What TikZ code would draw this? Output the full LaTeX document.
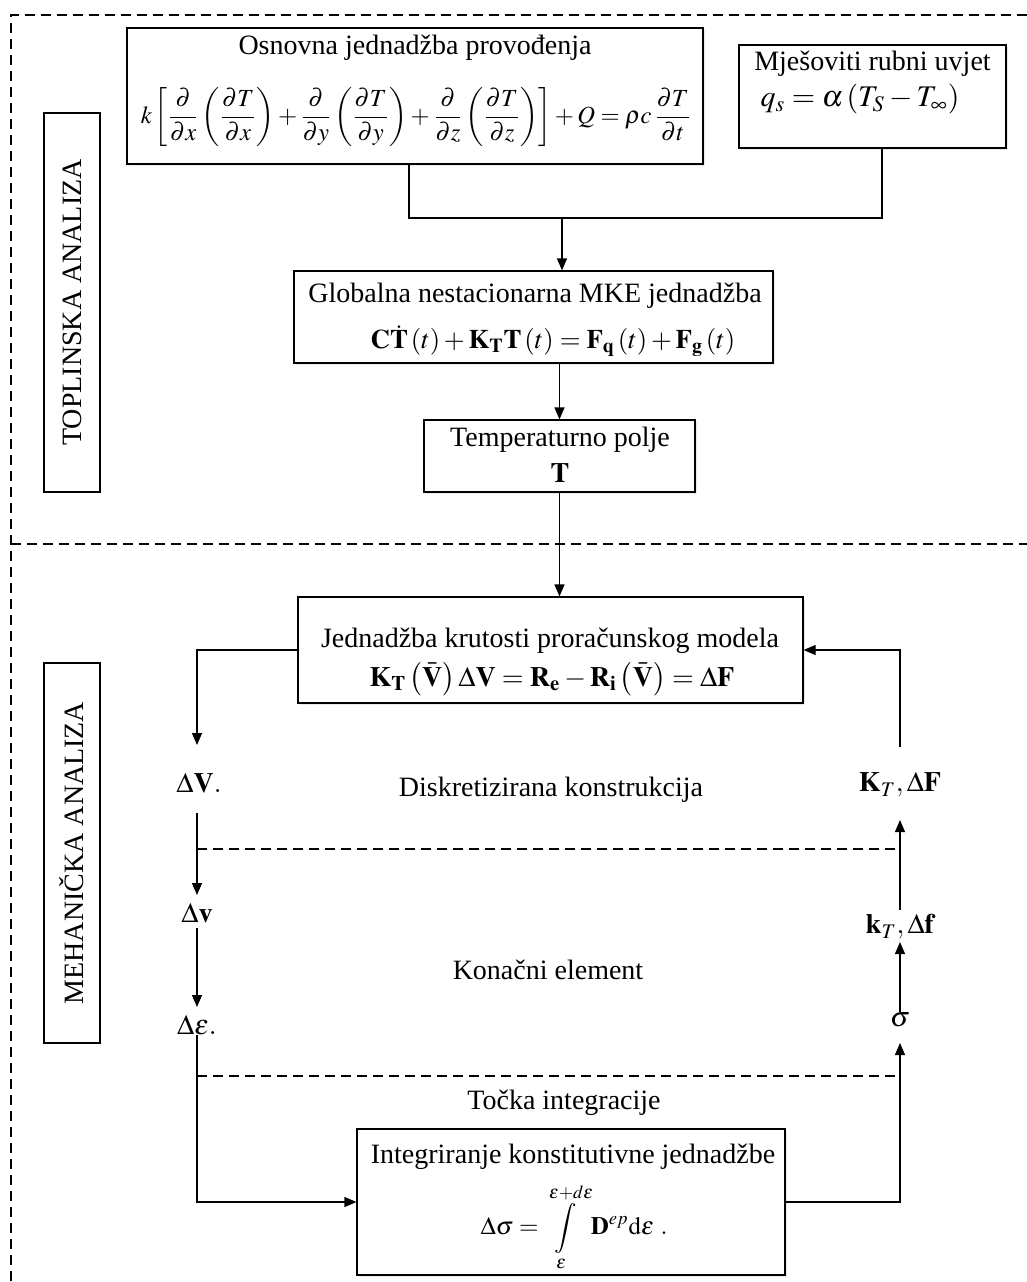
\documentclass[tikz,border=0pt]{standalone}
\usepackage{amsmath}
\usepackage{mathptmx}
\usepackage[no-math]{fontspec}
\setmainfont{Liberation Serif}
\usepackage{tikz}
\usetikzlibrary{arrows.meta,shadows}
\usetikzlibrary{positioning}

\begin{document}
\begin{tikzpicture}[x=0.5pt,y=-0.5pt,line width=0.6pt,font=\fontsize{14}{17}\selectfont,inner sep=0.5pt]
 \tikzstyle{arrow} = [-{Triangle[length=6pt,width=5pt]}]
 \tikzstyle{box} = [draw,fill=white,inner sep=0pt,drop shadow={shadow xshift=1pt,shadow yshift=-1pt,opacity=0.15,fill=blue!20!gray}]
 \tikzstyle{sidebox} = [draw,rotate=90,minimum height=28pt,inner sep=2pt]
 \tikzstyle{sep} = [dash pattern=on 5pt off 3pt]
 \tikzstyle{lbl} = [inner sep=1pt]
 \useasboundingbox (0,0) rectangle (1027,1282);

 %Draw the dashed frame
 \draw[sep] (1027,15) -- (11,15) -- (11,1282);
 \draw[sep] (11,544) -- (1027,544);

 %Draw the side labels
 \node[sidebox,minimum width=189.5pt] (toplinska) at (72,302.5) {TOPLINSKA ANALIZA};
 \node[sidebox,minimum width=190pt] (mehanicka) at (72,853) {MEHANIČKA ANALIZA};

 %Thermal part
 \node[box,minimum width=288pt,minimum height=68pt] (osnovna) at (415,96) {};
 \node (osnovnaTxt) at (415,48) {Osnovna jednadžba provođenja};
 \node[font=\fontsize{12.3}{15}\selectfont] (osnovnaEq) at (416,117)
   {$\displaystyle k\left[\frac{\partial}{\partial x}\left(\frac{\partial T}{\partial x}\right)+\frac{\partial}{\partial y}\left(\frac{\partial T}{\partial y}\right)+\frac{\partial}{\partial z}\left(\frac{\partial T}{\partial z}\right)\right]+Q=\rho c\,\frac{\partial T}{\partial t}$};
 \node[box,minimum width=133.5pt,minimum height=51.5pt] (rubni) at (872.5,96.5) {};
 \node (rubniTxt) at (872.5,64) {Mješoviti rubni uvjet};
 \node[font=\fontsize{15}{18}\selectfont] (rubniEq) at (860,99) {$q_s=\alpha\left(T_S-T_\infty\right)$};
 \node[box,minimum width=239.5pt,minimum height=46pt] (globalna) at (533.5,317) {};
 \node (globalnaTxt) at (535,296) {Globalna nestacionarna MKE jednadžba};
 \node[font=\fontsize{13.4}{16}\selectfont] (globalnaEq) at (553,341)
   {$\mathbf{C}\dot{\mathbf{T}}\left(t\right)+\mathbf{K}_{\mathbf{T}}\mathbf{T}\left(t\right)=\mathbf{F}_{\mathbf{q}}\left(t\right)+\mathbf{F}_{\mathbf{g}}\left(t\right)$};
 \node[box,minimum width=135.5pt,minimum height=36pt] (polje) at (559.5,456) {};
 \node (poljeTxt) at (560,440) {Temperaturno polje};
 \node (poljeEq) at (560,473) {$\mathbf{T}$};

 %Mechanical part
 \node[box,minimum width=252.5pt,minimum height=53pt] (krutost) at (550.5,650) {};
 \node (krutostTxt) at (550,641) {Jednadžba krutosti proračunskog modela};
 \node (krutostEq) at (552,679)
   {$\mathbf{K}_{\mathbf{T}}\left(\bar{\mathbf{V}}\right)\Delta\mathbf{V}=\mathbf{R}_{\mathbf{e}}-\mathbf{R}_{\mathbf{i}}\left(\bar{\mathbf{V}}\right)=\Delta\mathbf{F}$};
 \node[box,minimum width=214pt,minimum height=73pt] (integr) at (571,1202) {};
 \node (integrTxt) at (573,1157) {Integriranje konstitutivne jednadžbe};
 \node[font=\fontsize{12.5}{15}\selectfont] (integrEq) at (574,1227)
   {$\displaystyle\Delta\sigma=\int\limits_{\varepsilon}^{\varepsilon+d\varepsilon}\mathbf{D}^{ep}\mathrm{d}\varepsilon\ .$};

 %Quantities passed between the levels
 \node[lbl] (dV) at (199,783) {$\Delta\mathbf{V}.$};
 \node[lbl] (dv) at (197,913) {$\Delta\mathbf{v}$};
 \node[lbl] (deps) at (197,1025) {$\Delta\varepsilon.$};
 \node[lbl] (KF) at (900,785) {$\mathbf{K}_T,\Delta\mathbf{F}$};
 \node[lbl] (kf) at (900,927) {$\mathbf{k}_T,\Delta\mathbf{f}$};
 \node[lbl] (sigma) at (900,1020) {$\sigma$};

 %Level names
 \node (diskr) at (551,790) {Diskretizirana konstrukcija};
 \node (konacni) at (548,970) {Konačni element};
 \node (tocka) at (564,1103) {Točka integracije};
 \draw[sep] (197,849) -- (900,849);
 \draw[sep] (197,1076) -- (900,1076);

 %Connectors
 \coordinate (spoj) at (562,218);
 \draw ([xshift=-3pt]osnovna.south) |- (spoj) -| ([xshift=4.75pt]rubni.south);
 \draw[arrow] (spoj) -- (spoj |- globalna.north);
 \draw[arrow] (globalna.south -| polje.north) -- (polje.north);
 \draw[arrow] (polje.south) -- (polje.south |- krutost.north);
 \draw[arrow] (krutost.west) -| ([xshift=-1pt,yshift=19pt]dV.center);
 \draw[arrow] ([xshift=-1pt,yshift=-15pt]dV.center) -- ([yshift=9pt]dv.center);
 \draw[arrow] ([yshift=-7.5pt]dv.center) -- ([yshift=9pt]deps.center);
 \draw[arrow] ([yshift=-5pt]deps.center) |- (integr.west);
 \draw[arrow] (integr.east) -| ([yshift=-11.5pt]sigma.center);
 \draw[arrow] ([yshift=4pt]sigma.center) -- ([yshift=-7.5pt]kf.center);
 \draw[arrow] ([yshift=8.5pt]kf.center) -- ([yshift=-17.5pt]KF.center);
 \draw[arrow] ([yshift=19pt]KF.center) |- (krutost.east);
\end{tikzpicture}
\end{document}
